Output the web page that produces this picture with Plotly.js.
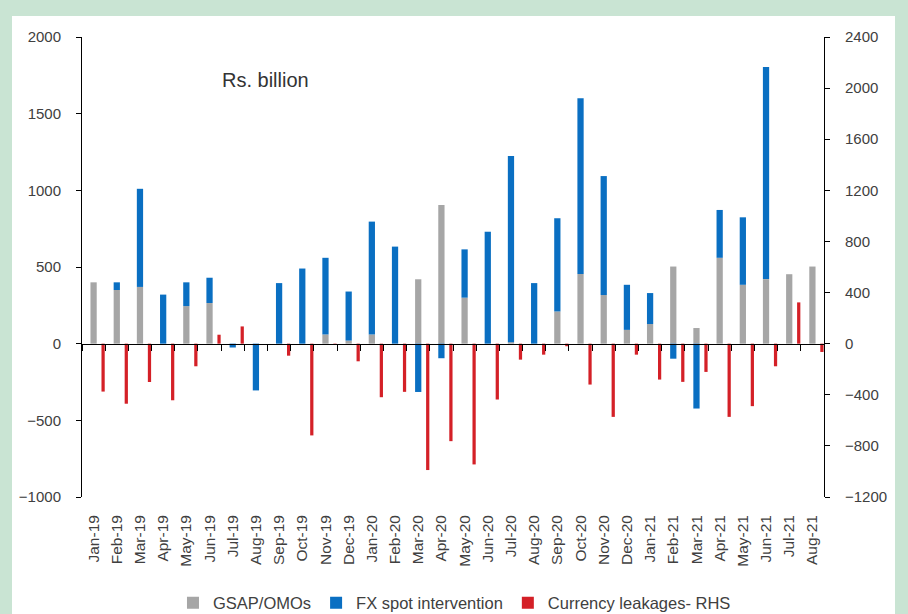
<!DOCTYPE html>
<html><head><meta charset="utf-8">
<script src="https://cdn.plot.ly/plotly-3.0.1.min.js"></script>
<style>
html,body{margin:0;padding:0;background:#c9e4d3;width:908px;height:614px;overflow:hidden;}
#chart{position:absolute;left:12px;top:16px;width:883px;height:640px;background:#fff;}
</style></head><body><div id="chart"></div>
<script>
const months=['Jan-19','Feb-19','Mar-19','Apr-19','May-19','Jun-19','Jul-19','Aug-19','Sep-19','Oct-19','Nov-19','Dec-19',
'Jan-20','Feb-20','Mar-20','Apr-20','May-20','Jun-20','Jul-20','Aug-20','Sep-20','Oct-20','Nov-20','Dec-20',
'Jan-21','Feb-21','Mar-21','Apr-21','May-21','Jun-21','Jul-21','Aug-21'];
const gsapOmo=[400,350,370,0,245,265,0,0,0,0,60,20,60,0,420,905,300,0,10,0,210,455,317,90,128,503,102,560,384,421,453,503];
const fxSpot=[0,50,640,320,155,165,-25,-305,395,490,500,320,736,633,-315,-95,315,730,1214,395,608,1145,776,294,202,-98,-423,312,440,1384,0,0];
const leakages=[-375,-470,-300,-443,-177,70,135,0,-94,-718,-10,-138,-419,-377,-989,-763,-945,-437,-125,-86,-20,-320,-573,-86,-281,-299,-221,-573,-489,-177,323,-65];

const FONT='"Liberation Sans", Arial, sans-serif';
const tickFont={family:FONT,size:15,color:'#404040'};

const traces=[
 {type:'bar',name:'GSAP/OMOs',x:months,y:gsapOmo,xaxis:'x',yaxis:'y',marker:{color:'#a6a6a6'},width:0.27,offset:-0.135,hoverinfo:'x+y+name'},
 {type:'bar',name:'FX spot intervention',x:months,y:fxSpot,xaxis:'x',yaxis:'y',marker:{color:'#0a6fc2'},width:0.27,offset:-0.135,hoverinfo:'x+y+name'},
 {type:'bar',name:'Currency leakages- RHS',x:months,y:leakages,xaxis:'x2',yaxis:'y2',marker:{color:'#d42027'},width:0.14,offset:0.34,hoverinfo:'x+y+name'}
];

const layout={
 width:883,height:640,
 margin:{l:70,r:71,t:21,b:159,pad:0},
 paper_bgcolor:'#ffffff',plot_bgcolor:'#ffffff',
 barmode:'relative',
 showlegend:true,
 legend:{orientation:'h',x:0.502,xanchor:'center',y:-0.2304,yanchor:'middle',traceorder:'normal',
   font:{family:FONT,size:16.5,color:'#404040'},itemwidth:30},
 xaxis:{type:'category',categoryorder:'array',categoryarray:months,range:[-0.5,31.5],
   anchor:'free',position:1/3,showline:true,linecolor:'#000',linewidth:1,
   ticks:'outside',tickson:'boundaries',ticklen:6,tickcolor:'#000',tickwidth:1,
   showticklabels:false,showgrid:false,zeroline:false},
 xaxis2:{type:'category',categoryorder:'array',categoryarray:months,range:[-0.5,31.5],
   overlaying:'x',anchor:'y2',side:'bottom',showline:false,ticks:'',tickangle:-90,
   tickfont:{family:FONT,size:15.5,color:'#404040'},showgrid:false,zeroline:false,ticklabelstandoff:14},
 yaxis:{range:[-1000,2000],tick0:0,dtick:500,showline:true,linecolor:'#000',linewidth:1,
   ticks:'outside',ticklen:5,tickcolor:'#000',showgrid:false,zeroline:false,
   tickfont:tickFont,ticklabelstandoff:12},
 yaxis2:{range:[-1200,2400],tick0:0,dtick:400,overlaying:'y',side:'right',showline:true,linecolor:'#000',linewidth:1,
   ticks:'outside',ticklen:5,tickcolor:'#000',showgrid:false,zeroline:false,
   tickfont:tickFont,ticklabelstandoff:12},
 annotations:[{text:'Rs. billion',xref:'paper',yref:'paper',x:0.247,y:0.906,xanchor:'center',yanchor:'middle',
   showarrow:false,font:{family:FONT,size:20,color:'#333'}}]
};
Plotly.newPlot('chart',traces,layout,{displayModeBar:false,staticPlot:true});
</script></body></html>
